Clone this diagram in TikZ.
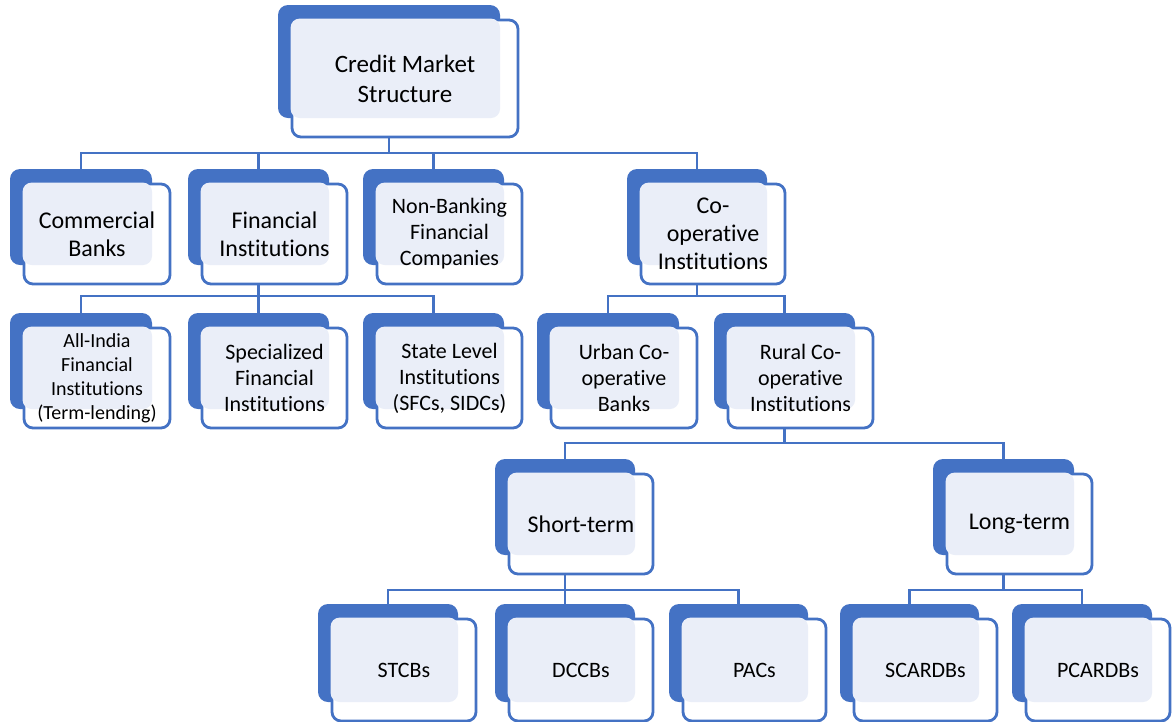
\documentclass[tikz,border=0pt]{standalone}
\usepackage{fontspec}
\setmainfont{Carlito}[Ligatures=NoCommon]
\definecolor{smblue}{HTML}{4472C4}
\definecolor{smlight}{HTML}{EAEEF8}
\tikzset{
  backbox/.style={fill=smblue, rounded corners=10pt, inner sep=0pt, outer sep=0pt, anchor=north west},
  frontbox/.style={draw=smblue, fill=white, line width=2.8pt, rounded corners=9pt, inner sep=0pt, outer sep=0pt, anchor=north west},
  conn/.style={draw=smblue, line width=2.8pt},
  fxl/.style={font=\fontsize{25}{30}\selectfont},
  fl/.style={font=\fontsize{24}{28}\selectfont},
  fm/.style={font=\fontsize{22}{26}\selectfont},
  fs/.style={font=\fontsize{20}{24}\selectfont}
}
% name, x, y, width, height, font, text
\newcommand\orgbox[7]{%
  \node[backbox, minimum width=#4pt, minimum height=#5pt] (#1) at (#2,#3) {};
  \node[frontbox, minimum width=#4pt+4pt, minimum height=#5pt+4pt] (#1f) at ([shift={(14,15)}]#1.north west) {};
  \fill[smlight, rounded corners=9pt] ([shift={(-1.4,-1.4)}]#1f.north west) rectangle (#1.south east);
  \node[#6, align=center] (#1t) at (#1f.center) {#7};
}

\begin{document}
\begin{tikzpicture}[x=1pt,y=-1pt]
\useasboundingbox (0,0) rectangle (1174,721);

\orgbox{top}{278}{5}{222}{113}{fxl}{Credit Market\\Structure}

\orgbox{cb}{10}{169}{142}{96}{fl}{Commercial\\Banks}
\orgbox{fi}{188}{169}{141}{96}{fl}{Financial\\Institutions}
\orgbox{nb}{363}{169}{141}{96}{fm}{Non-Banking\\Financial\\Companies}
\orgbox{co}{627}{169}{140}{96}{fl}{Co-\\operative\\Institutions}

\orgbox{ai}{10}{313}{142}{96}{fs}{All-India\\Financial\\Institutions\\(Term-lending)}
\orgbox{sp}{188}{313}{141}{96}{fm}{Specialized\\Financial\\Institutions}
\orgbox{sl}{363}{313}{141}{96}{fm}{State Level\\Institutions\\(SFCs, SIDCs)}
\orgbox{ub}{537}{313}{142}{96}{fm}{Urban Co-\\operative\\Banks}
\orgbox{rc}{714}{313}{141}{96}{fm}{Rural Co-\\operative\\Institutions}

\orgbox{st}{495}{459}{140}{96}{fl}{Short-term}
\orgbox{lt}{933}{459}{141}{96}{fl}{Long-term}

\orgbox{stcb}{318}{604}{140}{98}{fm}{STCBs}
\orgbox{dccb}{495}{604}{140}{98}{fm}{DCCBs}
\orgbox{pac}{669}{604}{139}{98}{fm}{PACs}
\orgbox{scard}{840}{604}{139}{98}{fm}{SCARDBs}
\orgbox{pcard}{1012}{604}{140}{98}{fm}{PCARDBs}

\coordinate (bar1) at (0,153);
\coordinate (bar2) at (0,296);
\coordinate (bar3) at (0,443);
\coordinate (bar4) at (0,590);

\foreach \c in {cb,fi,nb,co}
  \draw[conn] (top.south |- topf.south) -- (top.south |- bar1) -| (\c.north);
\foreach \c in {ai,sp,sl}
  \draw[conn] (fi.south |- fif.south) -- (fi.south |- bar2) -| (\c.north);
\foreach \c in {ub,rc}
  \draw[conn] (co.south |- cof.south) -- (co.south |- bar2) -| (\c.north);
\foreach \c in {st,lt}
  \draw[conn] (rc.south |- rcf.south) -- (rc.south |- bar3) -| (\c.north);
\foreach \c in {stcb,dccb,pac}
  \draw[conn] (st.south |- stf.south) -- (st.south |- bar4) -| (\c.north);
\foreach \c in {scard,pcard}
  \draw[conn] (lt.south |- ltf.south) -- (lt.south |- bar4) -| (\c.north);

\end{tikzpicture}
\end{document}
